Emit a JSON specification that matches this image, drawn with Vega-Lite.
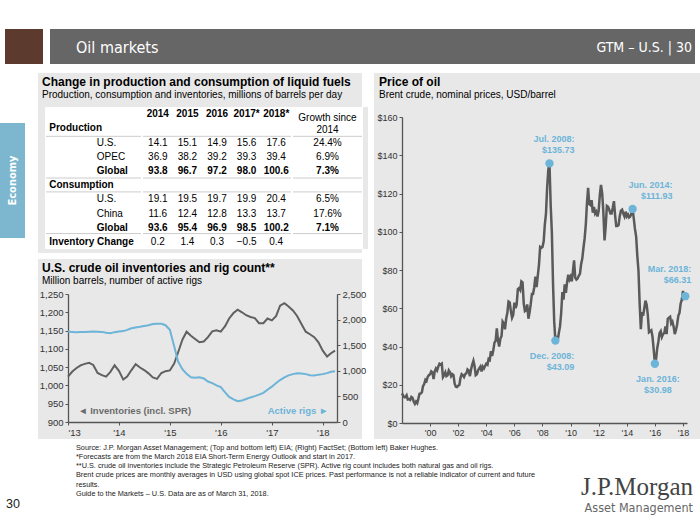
{
  "$schema": "https://vega.github.io/schema/vega-lite/v6.json",
  "background": "white",
  "padding": {"left": 0, "top": 29, "right": 0, "bottom": 0},
  "autosize": {"type": "pad"},
  "spacing": 0,
  "config": {
    "view": {"stroke": null},
    "font": "Liberation Sans",
    "title": {"font": "Liberation Sans", "subtitleFont": "Liberation Sans", "anchor": "start", "frame": "group"},
    "axis": {"labelFont": "Liberation Sans", "labelFontSize": 9, "labelColor": "#333333", "domainColor": "#555555", "tickColor": "#555555", "domainWidth": 1.3, "tickWidth": 1, "tickSize": 3, "grid": false, "labelPadding": 2}
  },
  "datasets": {
    "rows": [
      {"r": 1, "label": "Production", "kind": "section", "level": "section", "sep": true},
      {"r": 2, "label": "U.S.", "kind": "item", "level": "item"},
      {"r": 3, "label": "OPEC", "kind": "item", "level": "item"},
      {"r": 4, "label": "Global", "kind": "total", "level": "item", "sep": true},
      {"r": 5, "label": "Consumption", "kind": "section", "level": "section", "sep": true},
      {"r": 6, "label": "U.S.", "kind": "item", "level": "item"},
      {"r": 7, "label": "China", "kind": "item", "level": "item"},
      {"r": 8, "label": "Global", "kind": "total", "level": "item", "sep": true},
      {"r": 9, "label": "Inventory Change", "kind": "section", "level": "section"}
    ],
    "years": [
      {"r": 0, "year": "2014"}, {"r": 0, "year": "2015"}, {"r": 0, "year": "2016"}, {"r": 0, "year": "2017*"}, {"r": 0, "year": "2018*"}
    ],
    "cells": [
      {"r": 2, "year": "2014", "v": 14.1}, {"r": 2, "year": "2015", "v": 15.1}, {"r": 2, "year": "2016", "v": 14.9}, {"r": 2, "year": "2017*", "v": 15.6}, {"r": 2, "year": "2018*", "v": 17.6},
      {"r": 3, "year": "2014", "v": 36.9}, {"r": 3, "year": "2015", "v": 38.2}, {"r": 3, "year": "2016", "v": 39.2}, {"r": 3, "year": "2017*", "v": 39.3}, {"r": 3, "year": "2018*", "v": 39.4},
      {"r": 4, "year": "2014", "v": 93.8, "total": true}, {"r": 4, "year": "2015", "v": 96.7, "total": true}, {"r": 4, "year": "2016", "v": 97.2, "total": true}, {"r": 4, "year": "2017*", "v": 98.0, "total": true}, {"r": 4, "year": "2018*", "v": 100.6, "total": true},
      {"r": 6, "year": "2014", "v": 19.1}, {"r": 6, "year": "2015", "v": 19.5}, {"r": 6, "year": "2016", "v": 19.7}, {"r": 6, "year": "2017*", "v": 19.9}, {"r": 6, "year": "2018*", "v": 20.4},
      {"r": 7, "year": "2014", "v": 11.6}, {"r": 7, "year": "2015", "v": 12.4}, {"r": 7, "year": "2016", "v": 12.8}, {"r": 7, "year": "2017*", "v": 13.3}, {"r": 7, "year": "2018*", "v": 13.7},
      {"r": 8, "year": "2014", "v": 93.6, "total": true}, {"r": 8, "year": "2015", "v": 95.4, "total": true}, {"r": 8, "year": "2016", "v": 96.9, "total": true}, {"r": 8, "year": "2017*", "v": 98.5, "total": true}, {"r": 8, "year": "2018*", "v": 100.2, "total": true},
      {"r": 9, "year": "2014", "v": 0.2}, {"r": 9, "year": "2015", "v": 1.4}, {"r": 9, "year": "2016", "v": 0.3}, {"r": 9, "year": "2017*", "v": -0.5}, {"r": 9, "year": "2018*", "v": 0.4}
    ],
    "growth": [
      {"r": 0, "head": "Growth since\n2014"},
      {"r": 2, "g": 0.244}, {"r": 3, "g": 0.069}, {"r": 4, "g": 0.073, "total": true},
      {"r": 6, "g": 0.065}, {"r": 7, "g": 0.176}, {"r": 8, "g": 0.071, "total": true}
    ],
    "inv": [
      {"d": "2013-01", "v": 1024}, {"d": "2013-02", "v": 1038}, {"d": "2013-03", "v": 1047}, {"d": "2013-04", "v": 1055}, {"d": "2013-05", "v": 1059}, {"d": "2013-06", "v": 1062},
      {"d": "2013-07", "v": 1056}, {"d": "2013-08", "v": 1034}, {"d": "2013-09", "v": 1028}, {"d": "2013-10", "v": 1024}, {"d": "2013-11", "v": 1037}, {"d": "2013-12", "v": 1055},
      {"d": "2014-01", "v": 1040}, {"d": "2014-02", "v": 1016}, {"d": "2014-03", "v": 1024}, {"d": "2014-04", "v": 1042}, {"d": "2014-05", "v": 1058}, {"d": "2014-06", "v": 1049},
      {"d": "2014-07", "v": 1042}, {"d": "2014-08", "v": 1033}, {"d": "2014-09", "v": 1022}, {"d": "2014-10", "v": 1018}, {"d": "2014-11", "v": 1034}, {"d": "2014-12", "v": 1039},
      {"d": "2015-01", "v": 1041}, {"d": "2015-02", "v": 1060}, {"d": "2015-03", "v": 1090}, {"d": "2015-04", "v": 1125}, {"d": "2015-05", "v": 1147}, {"d": "2015-06", "v": 1136},
      {"d": "2015-07", "v": 1127}, {"d": "2015-08", "v": 1118}, {"d": "2015-09", "v": 1120}, {"d": "2015-10", "v": 1132}, {"d": "2015-11", "v": 1148}, {"d": "2015-12", "v": 1151},
      {"d": "2016-01", "v": 1147}, {"d": "2016-02", "v": 1162}, {"d": "2016-03", "v": 1183}, {"d": "2016-04", "v": 1198}, {"d": "2016-05", "v": 1207}, {"d": "2016-06", "v": 1200},
      {"d": "2016-07", "v": 1192}, {"d": "2016-08", "v": 1187}, {"d": "2016-09", "v": 1184}, {"d": "2016-10", "v": 1170}, {"d": "2016-11", "v": 1170}, {"d": "2016-12", "v": 1183},
      {"d": "2017-01", "v": 1178}, {"d": "2017-02", "v": 1190}, {"d": "2017-03", "v": 1218}, {"d": "2017-04", "v": 1225}, {"d": "2017-05", "v": 1216}, {"d": "2017-06", "v": 1205},
      {"d": "2017-07", "v": 1190}, {"d": "2017-08", "v": 1168}, {"d": "2017-09", "v": 1147}, {"d": "2017-10", "v": 1140}, {"d": "2017-11", "v": 1132}, {"d": "2017-12", "v": 1118},
      {"d": "2018-01", "v": 1095}, {"d": "2018-02", "v": 1079}, {"d": "2018-03", "v": 1088}, {"d": "2018-03-30", "v": 1095}
    ],
    "rigs": [
      {"d": "2013-01", "v": 1766}, {"d": "2013-02", "v": 1760}, {"d": "2013-03", "v": 1755}, {"d": "2013-04", "v": 1756}, {"d": "2013-05", "v": 1757}, {"d": "2013-06", "v": 1762},
      {"d": "2013-07", "v": 1766}, {"d": "2013-08", "v": 1765}, {"d": "2013-09", "v": 1760}, {"d": "2013-10", "v": 1745}, {"d": "2013-11", "v": 1735}, {"d": "2013-12", "v": 1755},
      {"d": "2014-01", "v": 1768}, {"d": "2014-02", "v": 1775}, {"d": "2014-03", "v": 1800}, {"d": "2014-04", "v": 1830}, {"d": "2014-05", "v": 1847}, {"d": "2014-06", "v": 1860},
      {"d": "2014-07", "v": 1875}, {"d": "2014-08", "v": 1890}, {"d": "2014-09", "v": 1915}, {"d": "2014-10", "v": 1920}, {"d": "2014-11", "v": 1920}, {"d": "2014-12", "v": 1890},
      {"d": "2015-01", "v": 1800}, {"d": "2015-02", "v": 1480}, {"d": "2015-03", "v": 1180}, {"d": "2015-04", "v": 1030}, {"d": "2015-05", "v": 940}, {"d": "2015-06", "v": 875},
      {"d": "2015-07", "v": 865}, {"d": "2015-08", "v": 875}, {"d": "2015-09", "v": 850}, {"d": "2015-10", "v": 790}, {"d": "2015-11", "v": 760}, {"d": "2015-12", "v": 715},
      {"d": "2016-01", "v": 680}, {"d": "2016-02", "v": 580}, {"d": "2016-03", "v": 490}, {"d": "2016-04", "v": 440}, {"d": "2016-05", "v": 405}, {"d": "2016-06", "v": 420},
      {"d": "2016-07", "v": 450}, {"d": "2016-08", "v": 480}, {"d": "2016-09", "v": 505}, {"d": "2016-10", "v": 535}, {"d": "2016-11", "v": 570}, {"d": "2016-12", "v": 630},
      {"d": "2017-01", "v": 690}, {"d": "2017-02", "v": 760}, {"d": "2017-03", "v": 820}, {"d": "2017-04", "v": 870}, {"d": "2017-05", "v": 910}, {"d": "2017-06", "v": 935},
      {"d": "2017-07", "v": 950}, {"d": "2017-08", "v": 945}, {"d": "2017-09", "v": 935}, {"d": "2017-10", "v": 915}, {"d": "2017-11", "v": 910}, {"d": "2017-12", "v": 925},
      {"d": "2018-01", "v": 935}, {"d": "2018-02", "v": 955}, {"d": "2018-03", "v": 980}, {"d": "2018-03-30", "v": 993}
    ],
    "brent": [
      {"d": "1998-01", "p": 15.5}, {"d": "1998-02", "p": 14.3}, {"d": "1998-03", "p": 13.5}, {"d": "1998-04", "p": 13.6}, {"d": "1998-05", "p": 14.5}, {"d": "1998-06", "p": 12.3}, {"d": "1998-07", "p": 12.5}, {"d": "1998-08", "p": 12.1}, {"d": "1998-09", "p": 13.6}, {"d": "1998-10", "p": 13.2}, {"d": "1998-11", "p": 11.2}, {"d": "1998-12", "p": 10.0},
      {"d": "1999-01", "p": 11.2}, {"d": "1999-02", "p": 10.4}, {"d": "1999-03", "p": 12.6}, {"d": "1999-04", "p": 15.3}, {"d": "1999-05", "p": 15.4}, {"d": "1999-06", "p": 16.0}, {"d": "1999-07", "p": 19.2}, {"d": "1999-08", "p": 20.4}, {"d": "1999-09", "p": 22.6}, {"d": "1999-10", "p": 22.0}, {"d": "1999-11", "p": 24.2}, {"d": "1999-12", "p": 25.0},
      {"d": "2000-01", "p": 25.5}, {"d": "2000-02", "p": 27.0}, {"d": "2000-03", "p": 26.5}, {"d": "2000-04", "p": 23.0}, {"d": "2000-05", "p": 27.0}, {"d": "2000-06", "p": 28.5}, {"d": "2000-07", "p": 27.5}, {"d": "2000-08", "p": 29.5}, {"d": "2000-09", "p": 31.0}, {"d": "2000-10", "p": 30.5}, {"d": "2000-11", "p": 31.0}, {"d": "2000-12", "p": 24.0},
      {"d": "2001-01", "p": 25.0}, {"d": "2001-02", "p": 26.5}, {"d": "2001-03", "p": 24.5}, {"d": "2001-04", "p": 25.0}, {"d": "2001-05", "p": 27.5}, {"d": "2001-06", "p": 26.5}, {"d": "2001-07", "p": 24.5}, {"d": "2001-08", "p": 25.5}, {"d": "2001-09", "p": 25.0}, {"d": "2001-10", "p": 20.5}, {"d": "2001-11", "p": 19.0}, {"d": "2001-12", "p": 18.8},
      {"d": "2002-01", "p": 19.5}, {"d": "2002-02", "p": 20.0}, {"d": "2002-03", "p": 23.5}, {"d": "2002-04", "p": 25.5}, {"d": "2002-05", "p": 25.0}, {"d": "2002-06", "p": 24.0}, {"d": "2002-07", "p": 25.5}, {"d": "2002-08", "p": 26.0}, {"d": "2002-09", "p": 28.0}, {"d": "2002-10", "p": 27.5}, {"d": "2002-11", "p": 24.5}, {"d": "2002-12", "p": 28.0},
      {"d": "2003-01", "p": 30.5}, {"d": "2003-02", "p": 32.5}, {"d": "2003-03", "p": 30.0}, {"d": "2003-04", "p": 25.0}, {"d": "2003-05", "p": 25.5}, {"d": "2003-06", "p": 27.5}, {"d": "2003-07", "p": 28.5}, {"d": "2003-08", "p": 29.5}, {"d": "2003-09", "p": 27.0}, {"d": "2003-10", "p": 29.5}, {"d": "2003-11", "p": 28.5}, {"d": "2003-12", "p": 29.8},
      {"d": "2004-01", "p": 31.0}, {"d": "2004-02", "p": 30.5}, {"d": "2004-03", "p": 33.5}, {"d": "2004-04", "p": 33.0}, {"d": "2004-05", "p": 37.5}, {"d": "2004-06", "p": 35.0}, {"d": "2004-07", "p": 38.0}, {"d": "2004-08", "p": 42.0}, {"d": "2004-09", "p": 43.0}, {"d": "2004-10", "p": 49.5}, {"d": "2004-11", "p": 43.0}, {"d": "2004-12", "p": 40.0},
      {"d": "2005-01", "p": 44.0}, {"d": "2005-02", "p": 45.5}, {"d": "2005-03", "p": 53.0}, {"d": "2005-04", "p": 52.0}, {"d": "2005-05", "p": 49.0}, {"d": "2005-06", "p": 54.5}, {"d": "2005-07", "p": 57.5}, {"d": "2005-08", "p": 63.5}, {"d": "2005-09", "p": 63.0}, {"d": "2005-10", "p": 58.5}, {"d": "2005-11", "p": 55.0}, {"d": "2005-12", "p": 56.5},
      {"d": "2006-01", "p": 63.0}, {"d": "2006-02", "p": 60.0}, {"d": "2006-03", "p": 62.0}, {"d": "2006-04", "p": 70.0}, {"d": "2006-05", "p": 70.5}, {"d": "2006-06", "p": 69.5}, {"d": "2006-07", "p": 74.0}, {"d": "2006-08", "p": 73.5}, {"d": "2006-09", "p": 62.5}, {"d": "2006-10", "p": 58.5}, {"d": "2006-11", "p": 59.0}, {"d": "2006-12", "p": 62.0},
      {"d": "2007-01", "p": 54.5}, {"d": "2007-02", "p": 58.0}, {"d": "2007-03", "p": 62.0}, {"d": "2007-04", "p": 67.5}, {"d": "2007-05", "p": 67.5}, {"d": "2007-06", "p": 71.0}, {"d": "2007-07", "p": 76.5}, {"d": "2007-08", "p": 71.0}, {"d": "2007-09", "p": 77.0}, {"d": "2007-10", "p": 82.5}, {"d": "2007-11", "p": 92.0}, {"d": "2007-12", "p": 91.5},
      {"d": "2008-01", "p": 92.0}, {"d": "2008-02", "p": 95.0}, {"d": "2008-03", "p": 103.5}, {"d": "2008-04", "p": 109.5}, {"d": "2008-05", "p": 123.0}, {"d": "2008-06", "p": 132.5}, {"d": "2008-07", "p": 135.73}, {"d": "2008-08", "p": 114.0}, {"d": "2008-09", "p": 99.5}, {"d": "2008-10", "p": 73.0}, {"d": "2008-11", "p": 53.0}, {"d": "2008-12", "p": 43.09},
      {"d": "2009-01", "p": 44.5}, {"d": "2009-02", "p": 43.5}, {"d": "2009-03", "p": 47.0}, {"d": "2009-04", "p": 50.5}, {"d": "2009-05", "p": 57.5}, {"d": "2009-06", "p": 68.5}, {"d": "2009-07", "p": 64.5}, {"d": "2009-08", "p": 72.5}, {"d": "2009-09", "p": 68.0}, {"d": "2009-10", "p": 73.5}, {"d": "2009-11", "p": 77.5}, {"d": "2009-12", "p": 75.0},
      {"d": "2010-01", "p": 76.5}, {"d": "2010-02", "p": 74.0}, {"d": "2010-03", "p": 79.0}, {"d": "2010-04", "p": 85.0}, {"d": "2010-05", "p": 76.0}, {"d": "2010-06", "p": 75.0}, {"d": "2010-07", "p": 75.5}, {"d": "2010-08", "p": 77.0}, {"d": "2010-09", "p": 78.0}, {"d": "2010-10", "p": 83.0}, {"d": "2010-11", "p": 86.0}, {"d": "2010-12", "p": 91.5},
      {"d": "2011-01", "p": 96.5}, {"d": "2011-02", "p": 104.0}, {"d": "2011-03", "p": 114.5}, {"d": "2011-04", "p": 123.0}, {"d": "2011-05", "p": 114.5}, {"d": "2011-06", "p": 114.0}, {"d": "2011-07", "p": 116.5}, {"d": "2011-08", "p": 110.0}, {"d": "2011-09", "p": 113.0}, {"d": "2011-10", "p": 109.5}, {"d": "2011-11", "p": 110.5}, {"d": "2011-12", "p": 108.0},
      {"d": "2012-01", "p": 111.0}, {"d": "2012-02", "p": 119.5}, {"d": "2012-03", "p": 124.5}, {"d": "2012-04", "p": 120.0}, {"d": "2012-05", "p": 110.5}, {"d": "2012-06", "p": 95.5}, {"d": "2012-07", "p": 102.5}, {"d": "2012-08", "p": 113.5}, {"d": "2012-09", "p": 113.0}, {"d": "2012-10", "p": 111.5}, {"d": "2012-11", "p": 109.5}, {"d": "2012-12", "p": 109.5},
      {"d": "2013-01", "p": 112.5}, {"d": "2013-02", "p": 116.0}, {"d": "2013-03", "p": 109.0}, {"d": "2013-04", "p": 103.0}, {"d": "2013-05", "p": 103.0}, {"d": "2013-06", "p": 103.5}, {"d": "2013-07", "p": 108.0}, {"d": "2013-08", "p": 111.0}, {"d": "2013-09", "p": 111.5}, {"d": "2013-10", "p": 109.5}, {"d": "2013-11", "p": 108.0}, {"d": "2013-12", "p": 110.5},
      {"d": "2014-01", "p": 108.0}, {"d": "2014-02", "p": 109.0}, {"d": "2014-03", "p": 107.5}, {"d": "2014-04", "p": 108.0}, {"d": "2014-05", "p": 109.5}, {"d": "2014-06", "p": 111.93}, {"d": "2014-07", "p": 107.0}, {"d": "2014-08", "p": 101.5}, {"d": "2014-09", "p": 97.5}, {"d": "2014-10", "p": 87.5}, {"d": "2014-11", "p": 79.5}, {"d": "2014-12", "p": 62.5},
      {"d": "2015-01", "p": 49.0}, {"d": "2015-02", "p": 58.0}, {"d": "2015-03", "p": 56.0}, {"d": "2015-04", "p": 60.0}, {"d": "2015-05", "p": 64.0}, {"d": "2015-06", "p": 62.0}, {"d": "2015-07", "p": 56.5}, {"d": "2015-08", "p": 47.5}, {"d": "2015-09", "p": 48.0}, {"d": "2015-10", "p": 48.5}, {"d": "2015-11", "p": 45.0}, {"d": "2015-12", "p": 38.5},
      {"d": "2016-01", "p": 30.98}, {"d": "2016-02", "p": 33.5}, {"d": "2016-03", "p": 39.0}, {"d": "2016-04", "p": 42.5}, {"d": "2016-05", "p": 47.0}, {"d": "2016-06", "p": 48.0}, {"d": "2016-07", "p": 45.0}, {"d": "2016-08", "p": 46.5}, {"d": "2016-09", "p": 47.0}, {"d": "2016-10", "p": 50.5}, {"d": "2016-11", "p": 46.5}, {"d": "2016-12", "p": 54.5},
      {"d": "2017-01", "p": 55.0}, {"d": "2017-02", "p": 55.5}, {"d": "2017-03", "p": 52.0}, {"d": "2017-04", "p": 53.0}, {"d": "2017-05", "p": 50.5}, {"d": "2017-06", "p": 46.5}, {"d": "2017-07", "p": 48.5}, {"d": "2017-08", "p": 51.5}, {"d": "2017-09", "p": 56.0}, {"d": "2017-10", "p": 57.5}, {"d": "2017-11", "p": 62.5}, {"d": "2017-12", "p": 64.5},
      {"d": "2018-01", "p": 69.0}, {"d": "2018-02", "p": 65.5}, {"d": "2018-03", "p": 66.31}
    ],
    "ann": [
      {"d": "2008-07", "p": 135.73, "m": "Jul. 2008", "label": "Jul. 2008:\n$135.73"},
      {"d": "2008-12", "p": 43.09, "m": "Dec. 2008", "label": "Dec. 2008:\n$43.09"},
      {"d": "2014-06", "p": 111.93, "m": "Jun. 2014", "label": "Jun. 2014:\n$111.93"},
      {"d": "2016-01", "p": 30.98, "m": "Jan. 2016", "label": "Jan. 2016:\n$30.98"},
      {"d": "2018-03", "p": 66.31, "m": "Mar. 2018", "label": "Mar. 2018:\n$66.31"}
    ]
  },
  "vconcat": [
    {
      "hconcat": [
        {"width": 5, "height": 35, "data": {"values": []}, "mark": "point"},
        {"width": 38, "height": 35, "view": {"fill": "#5c3a2d", "stroke": null}, "data": {"values": []}, "mark": "point"},
        {"width": 7, "height": 35, "data": {"values": []}, "mark": "point"},
        {"width": 525, "height": 35, "view": {"fill": "#666666", "stroke": null}, "data": {"values": []}, "mark": "point",
          "title": {"text": "Oil markets", "font": "DejaVu Sans Condensed", "fontSize": 16, "fontWeight": "normal", "color": "white", "anchor": "start", "dx": 26, "offset": -27}},
        {"width": 120, "height": 35, "view": {"fill": "#666666", "stroke": null}, "data": {"values": []}, "mark": "point",
          "title": {"text": "GTM – U.S.  |  30", "font": "DejaVu Sans Condensed", "fontSize": 14, "fontWeight": "normal", "color": "white", "anchor": "end", "dx": -3, "offset": -26}}
      ],
      "spacing": 0
    },
    {"width": 700, "height": 9, "data": {"values": []}, "mark": "point"},
    {
      "hconcat": [
        {
          "vconcat": [
            {"width": 25, "height": 50, "data": {"values": []}, "mark": "point"},
            {"width": 25, "height": 115, "view": {"fill": "#7cb7cf", "stroke": null},
              "data": {"values": [{"tab": "Economy"}]},
              "mark": {"type": "text", "angle": 270, "align": "center", "baseline": "middle", "font": "DejaVu Sans Condensed", "fontSize": 11, "fontWeight": "bold", "color": "white"},
              "encoding": {"text": {"field": "tab"}}}
          ],
          "spacing": 0
        },
        {"width": 13, "height": 366, "data": {"values": []}, "mark": "point"},
        {
          "vconcat": [
            {
              "vconcat": [
                {"width": 324, "height": 34, "view": {"fill": "#e8e8e8", "stroke": null}, "data": {"values": []}, "mark": "point",
                  "title": {"text": "Change in production and consumption of liquid fuels", "subtitle": "Production, consumption and inventories, millions of barrels per day", "fontSize": 12, "fontWeight": "bold", "color": "#000000", "subtitleFontSize": 10, "subtitleColor": "#000000", "subtitlePadding": 1, "dx": 4, "offset": -28}},
                {
                  "hconcat": [
                    {"width": 7, "height": 142, "view": {"fill": "#e8e8e8", "stroke": null}, "data": {"values": []}, "mark": "point"},
                    {
                      "width": 95, "height": 142, "view": {"fill": "white", "stroke": null},
                      "data": {"name": "rows"},
                      "layer": [
                        {"transform": [{"filter": "datum.sep"}], "mark": {"type": "rule", "color": "#cccccc", "strokeWidth": 1},
                          "encoding": {"y": {"field": "r", "type": "ordinal", "bandPosition": 1, "scale": {"type": "band", "domain": [0, 1, 2, 3, 4, 5, 6, 7, 8, 9], "paddingInner": 0, "paddingOuter": 0.11}, "axis": null}}},
                        {
                          "encoding": {
                            "x": {"field": "level", "type": "nominal", "scale": {"type": "point", "domain": ["section", "item"], "paddingOuter": 5.4375, "align": 0.069}, "axis": null},
                            "y": {"field": "r", "type": "ordinal", "scale": {"type": "point", "domain": [0, 1, 2, 3, 4, 5, 6, 7, 8, 9], "paddingOuter": 0.61}, "axis": null},
                            "text": {"field": "label"}
                          },
                          "layer": [
                            {"transform": [{"filter": "datum.kind != 'item'"}], "mark": {"type": "text", "align": "left", "baseline": "middle", "fontSize": 10, "fontWeight": "bold", "color": "#000000"}},
                            {"transform": [{"filter": "datum.kind == 'item'"}], "mark": {"type": "text", "align": "left", "baseline": "middle", "fontSize": 10, "color": "#000000"}}
                          ]
                        }
                      ],
                      "resolve": {"scale": {"y": "independent"}}
                    },
                    {
                      "width": 148, "height": 142, "view": {"fill": "white", "stroke": null},
                      "layer": [
                        {"data": {"name": "rows"}, "transform": [{"filter": "datum.sep"}], "mark": {"type": "rule", "color": "#cccccc", "strokeWidth": 1},
                          "encoding": {"y": {"field": "r", "type": "ordinal", "bandPosition": 1, "scale": {"type": "band", "domain": [0, 1, 2, 3, 4, 5, 6, 7, 8, 9], "paddingInner": 0, "paddingOuter": 0.11}, "axis": null}}},
                        {
                          "encoding": {
                            "x": {"field": "year", "type": "ordinal", "scale": {"type": "point", "domain": ["2014", "2015", "2016", "2017*", "2018*"], "paddingOuter": 0.508}, "axis": null},
                            "y": {"field": "r", "type": "ordinal", "scale": {"type": "point", "domain": [0, 1, 2, 3, 4, 5, 6, 7, 8, 9], "paddingOuter": 0.61}, "axis": null}
                          },
                          "layer": [
                            {"data": {"name": "years"}, "mark": {"type": "text", "baseline": "middle", "fontSize": 10, "fontWeight": "bold", "color": "#000000"}, "encoding": {"text": {"field": "year"}}},
                            {"data": {"name": "cells"}, "transform": [{"filter": "!datum.total"}], "mark": {"type": "text", "baseline": "middle", "fontSize": 10, "color": "#000000"}, "encoding": {"text": {"field": "v", "type": "quantitative", "format": ".1f"}}},
                            {"data": {"name": "cells"}, "transform": [{"filter": "datum.total"}], "mark": {"type": "text", "baseline": "middle", "fontSize": 10, "fontWeight": "bold", "color": "#000000"}, "encoding": {"text": {"field": "v", "type": "quantitative", "format": ".1f"}}}
                          ]
                        }
                      ],
                      "resolve": {"scale": {"y": "independent"}}
                    },
                    {
                      "width": 69, "height": 142, "view": {"fill": "white", "stroke": null},
                      "layer": [
                        {"data": {"name": "rows"}, "transform": [{"filter": "datum.sep"}], "mark": {"type": "rule", "color": "#cccccc", "strokeWidth": 1},
                          "encoding": {"y": {"field": "r", "type": "ordinal", "bandPosition": 1, "scale": {"type": "band", "domain": [0, 1, 2, 3, 4, 5, 6, 7, 8, 9], "paddingInner": 0, "paddingOuter": 0.11}, "axis": null}}},
                        {
                          "data": {"name": "growth"},
                          "encoding": {
                            "y": {"field": "r", "type": "ordinal", "scale": {"type": "point", "domain": [0, 1, 2, 3, 4, 5, 6, 7, 8, 9], "paddingOuter": 0.61}, "axis": null}
                          },
                          "layer": [
                            {"transform": [{"filter": "datum.r == 0"}], "mark": {"type": "text", "baseline": "middle", "fontSize": 10, "lineBreak": "\n", "lineHeight": 12.3, "dy": 4, "color": "#000000"}, "encoding": {"text": {"field": "head"}}},
                            {"transform": [{"filter": "datum.r > 0 && !datum.total"}], "mark": {"type": "text", "baseline": "middle", "fontSize": 10, "color": "#000000"}, "encoding": {"text": {"field": "g", "type": "quantitative", "format": ".1%"}}},
                            {"transform": [{"filter": "datum.r > 0 && datum.total"}], "mark": {"type": "text", "baseline": "middle", "fontSize": 10, "fontWeight": "bold", "color": "#000000"}, "encoding": {"text": {"field": "g", "type": "quantitative", "format": ".1%"}}}
                          ]
                        }
                      ],
                      "resolve": {"scale": {"y": "independent"}}
                    },
                    {"width": 5, "height": 142, "view": {"fill": "#e8e8e8", "stroke": null}, "data": {"values": []}, "mark": "point"}
                  ],
                  "spacing": 0
                },
                {"width": 324, "height": 4, "view": {"fill": "#e8e8e8", "stroke": null}, "data": {"values": []}, "mark": "point"}
              ],
              "spacing": 0
            },
            {"width": 324, "height": 6, "data": {"values": []}, "mark": "point"},
            {
              "width": 324, "height": 180, "view": {"fill": "#e8e8e8", "stroke": null},
              "title": {"text": "U.S. crude oil inventories and rig count**", "subtitle": "Million barrels, number of active rigs", "fontSize": 12, "fontWeight": "bold", "color": "#000000", "subtitleFontSize": 10, "subtitleColor": "#000000", "subtitlePadding": 1, "dx": 4, "offset": -28},
              "layer": [
                {
                  "layer": [
                    {
                      "data": {"name": "inv"},
                      "mark": {"type": "line", "color": "#606060", "strokeWidth": 2},
                      "encoding": {
                        "x": {"field": "d", "type": "temporal", "title": null,
                          "scale": {"type": "utc", "domain": [{"year": 2013, "month": 1, "date": 1, "utc": true}, {"year": 2018, "month": 4, "date": 13, "utc": true}], "range": [30, 299]},
                          "axis": {"offset": -17, "labelExpr": "\"'\" + utcFormat(datum.value, '%y')", "labelFontSize": 9.5,
                            "values": [{"year": 2013, "month": 1, "date": 1, "utc": true}, {"year": 2014, "month": 1, "date": 1, "utc": true}, {"year": 2015, "month": 1, "date": 1, "utc": true}, {"year": 2016, "month": 1, "date": 1, "utc": true}, {"year": 2017, "month": 1, "date": 1, "utc": true}, {"year": 2018, "month": 1, "date": 1, "utc": true}]}},
                        "y": {"field": "v", "type": "quantitative", "title": null,
                          "scale": {"domain": [900, 1250], "range": [163, 35], "nice": false, "zero": false},
                          "axis": {"orient": "left", "offset": -30, "format": ",.0f", "labelFontSize": 9.5, "labelOverlap": false, "values": [900, 950, 1000, 1050, 1100, 1150, 1200, 1250]}}
                      }
                    },
                    {
                      "data": {"values": [{"label": "◄ Inventories (incl. SPR)"}]},
                      "mark": {"type": "text", "align": "left", "baseline": "middle", "fontSize": 9.5, "fontWeight": "bold", "color": "#6b6b6b"},
                      "encoding": {
                        "x": {"datum": {"year": 2013, "month": 3, "date": 15, "utc": true}, "type": "temporal"},
                        "y": {"datum": 929, "type": "quantitative", "title": null,
                          "axis": {"orient": "left", "offset": -30, "format": ",.0f", "labelFontSize": 9.5, "labelOverlap": false, "values": [900, 950, 1000, 1050, 1100, 1150, 1200, 1250]}},
                        "text": {"field": "label"}
                      }
                    }
                  ]
                },
                {
                  "layer": [
                    {
                      "data": {"name": "rigs"},
                      "mark": {"type": "line", "color": "#6cb4d8", "strokeWidth": 2},
                      "encoding": {
                        "x": {"field": "d", "type": "temporal", "title": null},
                        "y": {"field": "v", "type": "quantitative", "title": null,
                          "scale": {"domain": [0, 2500], "range": [163, 35], "nice": false},
                          "axis": {"orient": "right", "offset": -25, "format": ",.0f", "labelFontSize": 9.5, "labelOverlap": false, "values": [0, 500, 1000, 1500, 2000, 2500]}}
                      }
                    },
                    {
                      "data": {"values": [{"label": "Active rigs ►"}]},
                      "mark": {"type": "text", "align": "right", "baseline": "middle", "fontSize": 9.5, "fontWeight": "bold", "color": "#6cb4d8"},
                      "encoding": {
                        "x": {"datum": {"year": 2018, "month": 2, "date": 10, "utc": true}, "type": "temporal"},
                        "y": {"datum": 210, "type": "quantitative", "title": null,
                          "axis": {"orient": "right", "offset": -25, "format": ",.0f", "labelFontSize": 9.5, "labelOverlap": false, "values": [0, 500, 1000, 1500, 2000, 2500]}},
                        "text": {"field": "label"}
                      }
                    }
                  ]
                }
              ],
              "resolve": {"scale": {"y": "independent"}, "axis": {"y": "independent"}}
            }
          ],
          "spacing": 0
        },
        {"width": 6, "height": 366, "data": {"values": []}, "mark": "point"},
        {
          "width": 327, "height": 366, "view": {"fill": "#e8e8e8", "stroke": null},
          "title": {"text": "Price of oil", "subtitle": "Brent crude, nominal prices, USD/barrel", "fontSize": 12, "fontWeight": "bold", "color": "#000000", "subtitleFontSize": 10, "subtitleColor": "#000000", "subtitlePadding": 1, "dx": 5, "offset": -28},
          "encoding": {
            "x": {"field": "d", "type": "temporal", "title": null,
              "scale": {"type": "utc", "domain": [{"year": 1998, "month": 1, "date": 1, "utc": true}, {"year": 2018, "month": 4, "date": 15, "utc": true}], "range": [28, 313]},
              "axis": {"offset": -16, "labelExpr": "\"'\" + utcFormat(datum.value, '%y')", "labelFontSize": 9,
                "values": [{"year": 2000, "month": 1, "date": 1, "utc": true}, {"year": 2002, "month": 1, "date": 1, "utc": true}, {"year": 2004, "month": 1, "date": 1, "utc": true}, {"year": 2006, "month": 1, "date": 1, "utc": true}, {"year": 2008, "month": 1, "date": 1, "utc": true}, {"year": 2010, "month": 1, "date": 1, "utc": true}, {"year": 2012, "month": 1, "date": 1, "utc": true}, {"year": 2014, "month": 1, "date": 1, "utc": true}, {"year": 2016, "month": 1, "date": 1, "utc": true}, {"year": 2018, "month": 1, "date": 1, "utc": true}]}},
            "y": {"field": "p", "type": "quantitative", "title": null,
              "scale": {"domain": [0, 160], "range": [350, 44], "nice": false},
              "axis": {"offset": -28, "labelExpr": "'$' + datum.value", "labelFontSize": 9, "values": [0, 20, 40, 60, 80, 100, 120, 140, 160]}}
          },
          "layer": [
            {"data": {"name": "brent"}, "mark": {"type": "line", "color": "#5a5a5a", "strokeWidth": 2.5}},
            {
              "data": {"name": "ann"},
              "layer": [
                {"mark": {"type": "point", "filled": true, "size": 70, "color": "#6cb4d8", "opacity": 1}},
                {"transform": [{"filter": {"field": "m", "equal": "Jul. 2008"}}], "mark": {"type": "text", "align": "right", "baseline": "bottom", "dx": 25, "dy": -19, "fontSize": 9, "fontWeight": "bold", "color": "#6cb4d8", "lineBreak": "\n", "lineHeight": 11}, "encoding": {"text": {"field": "label"}}},
                {"transform": [{"filter": {"field": "m", "equal": "Dec. 2008"}}], "mark": {"type": "text", "align": "right", "baseline": "top", "dx": 19, "dy": 11, "fontSize": 9, "fontWeight": "bold", "color": "#6cb4d8", "lineBreak": "\n", "lineHeight": 11}, "encoding": {"text": {"field": "label"}}},
                {"transform": [{"filter": {"field": "m", "equal": "Jun. 2014"}}], "mark": {"type": "text", "align": "right", "baseline": "bottom", "dx": 40, "dy": -19, "fontSize": 9, "fontWeight": "bold", "color": "#6cb4d8", "lineBreak": "\n", "lineHeight": 11}, "encoding": {"text": {"field": "label"}}},
                {"transform": [{"filter": {"field": "m", "equal": "Jan. 2016"}}], "mark": {"type": "text", "align": "center", "baseline": "top", "dx": 3, "dy": 11, "fontSize": 9, "fontWeight": "bold", "color": "#6cb4d8", "lineBreak": "\n", "lineHeight": 11}, "encoding": {"text": {"field": "label"}}},
                {"transform": [{"filter": {"field": "m", "equal": "Mar. 2018"}}], "mark": {"type": "text", "align": "right", "baseline": "bottom", "dx": 6, "dy": -22, "fontSize": 9, "fontWeight": "bold", "color": "#6cb4d8", "lineBreak": "\n", "lineHeight": 11}, "encoding": {"text": {"field": "label"}}}
              ]
            }
          ]
        }
      ],
      "spacing": 0
    },
    {
      "hconcat": [
        {"width": 76, "height": 86, "data": {"values": []}, "mark": "point",
          "title": {"text": "30", "fontSize": 12.5, "fontWeight": "normal", "color": "#222222", "dx": 6, "offset": -71}},
        {"width": 490, "height": 86, "data": {"values": []}, "mark": "point",
          "title": {"text": [
            "Source: J.P. Morgan Asset Management; (Top and bottom left) EIA; (Right) FactSet; (Bottom left) Baker Hughes.",
            "*Forecasts are from the March 2018 EIA Short-Term Energy Outlook and start in 2017.",
            "**U.S. crude oil inventories include the Strategic Petroleum Reserve (SPR). Active rig count includes both natural gas and oil rigs.",
            "Brent crude prices are monthly averages in USD using global spot ICE prices. Past performance is not a reliable indicator of current and future",
            "results.",
            "Guide to the Markets – U.S. Data are as of March 31, 2018."
          ], "fontSize": 7.3, "fontWeight": "normal", "color": "#222222", "lineHeight": 9.1, "offset": -58}},
        {"width": 134, "height": 86, "data": {"values": []}, "mark": "point",
          "title": {"text": "J.P.Morgan", "subtitle": "Asset Management", "font": "Liberation Serif", "fontSize": 25, "fontWeight": "normal", "color": "#444444", "subtitleFont": "DejaVu Sans Condensed", "subtitleFontSize": 12.5, "subtitleColor": "#666666", "subtitlePadding": 2, "anchor": "end", "dx": -7, "offset": -75}}
      ],
      "spacing": 0
    }
  ]
}
